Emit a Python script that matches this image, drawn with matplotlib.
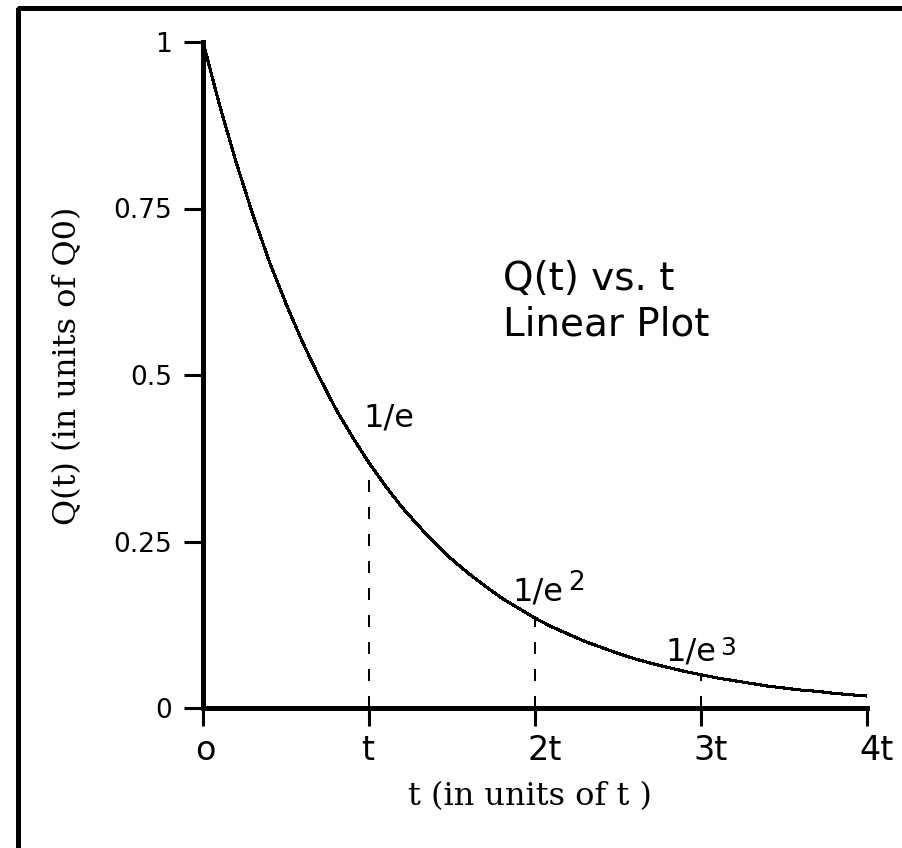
import matplotlib
matplotlib.use("Agg")
import matplotlib.pyplot as plt
from matplotlib.lines import Line2D
from matplotlib.transforms import ScaledTranslation

plt.rcParams["lines.antialiased"] = False
plt.rcParams["lines.scale_dashes"] = False
plt.rcParams["font.family"] = "DejaVu Sans"

# Q(t) decay curve, in units of Q0, read at steps of 0.1 t
t_vals = [0.0, 0.1, 0.2, 0.3, 0.4, 0.5, 0.6, 0.7, 0.8, 0.9,
          1.0, 1.1, 1.2, 1.3, 1.4, 1.5, 1.6, 1.7, 1.8, 1.9,
          2.0, 2.1, 2.2, 2.3, 2.4, 2.5, 2.6, 2.7, 2.8, 2.9,
          3.0, 3.1, 3.2, 3.3, 3.4, 3.5, 3.6, 3.7, 3.8, 3.9, 4.0]
q_vals = [1.0, 0.905, 0.819, 0.741, 0.670, 0.607, 0.549, 0.497, 0.449, 0.407,
          0.368, 0.333, 0.301, 0.273, 0.247, 0.223, 0.202, 0.183, 0.165, 0.150,
          0.135, 0.122, 0.111, 0.100, 0.091, 0.082, 0.074, 0.067, 0.061, 0.055,
          0.050, 0.045, 0.041, 0.037, 0.033, 0.030, 0.027, 0.025, 0.022, 0.020,
          0.018]

# marked points 1/e, 1/e^2, 1/e^3
mark_t = [1, 2, 3]
mark_q = [0.368, 0.135, 0.050]
mark_text = ["1/e", "1/e", "1/e"]
mark_power = ["", "2", "3"]
label_t = [0.964, 1.867, 2.783]
label_q = [0.422, 0.162, 0.072]
power_size = [0, 19, 18]
power_dy = [0, 7.2, 3.6]

xtick_pos = [0, 1, 2, 3, 4]
xtick_text = ["o", "t", "2t", "3t", "4t"]
ytick_pos = [0, 0.25, 0.5, 0.75, 1]
ytick_text = ["0", "0.25", "0.5", "0.75", "1"]

fig = plt.figure(figsize=(9.02, 8.48), dpi=100)
ax = fig.add_axes([203 / 902, 140 / 848, 664 / 902, 666 / 848])

ax.plot(t_vals, q_vals, color="black", lw=1.5)
for x, q in zip(mark_t, mark_q):
    ax.plot([x, x], [0, q], color="black", lw=1.5,
            linestyle=(0, (8.6, 10.8)))

ax.set_xlim(0, 4)
ax.set_ylim(0, 1)
for side in ["top", "right"]:
    ax.spines[side].set_visible(False)
for side in ["left", "bottom"]:
    ax.spines[side].set_linewidth(2.2)
    ax.spines[side].set_antialiased(False)

ax.set_yticks(ytick_pos, ytick_text)
ax.tick_params(axis="y", direction="out", length=14, width=2.2, pad=8.5,
               labelsize=19)
ax.set_xticks(xtick_pos, [""] * len(xtick_pos))
ax.tick_params(axis="x", direction="out", length=13, width=2.2)

# x tick labels, left-aligned just before each tick
xtrans = ax.get_xaxis_transform() + ScaledTranslation(-8 / 100, -52 / 100,
                                                      fig.dpi_scale_trans)
for x, s in zip(xtick_pos, xtick_text):
    ax.text(x, 0, s, transform=xtrans, ha="left", va="baseline", fontsize=24)

ax.set_xlabel("t (in units of t )", family="DejaVu Serif", fontsize=23,
              va="baseline")
ax.xaxis.set_label_coords(0.4925, -0.1456)
ax.set_ylabel("Q(t) (in units of Q0)", family="DejaVu Serif", fontsize=23)
ax.yaxis.set_label_coords(-0.1807, 0.5135)

for x, q, s, p, ps, dy in zip(label_t, label_q, mark_text, mark_power,
                              power_size, power_dy):
    ax.text(x, q, s, fontsize=23, ha="left", va="baseline")
    if p:
        ax.annotate(p, xy=(x, q), xytext=(40, dy), textcoords="offset points",
                    fontsize=ps, ha="left", va="baseline")

ax.text(1.807, 0.628, "Q(t) vs. t", fontsize=28, ha="left", va="baseline")
ax.text(1.807, 0.560, "Linear Plot", fontsize=28, ha="left", va="baseline")

# frame along the left and top edges of the figure
x0 = 17.5 / 902
ytop = 1 - 7.5 / 848
fig.add_artist(Line2D([x0, x0, 1.01], [-0.01, ytop, ytop],
                      transform=fig.transFigure, color="black", lw=2.2,
                      antialiased=False))

fig.savefig("out.png", dpi=100)
